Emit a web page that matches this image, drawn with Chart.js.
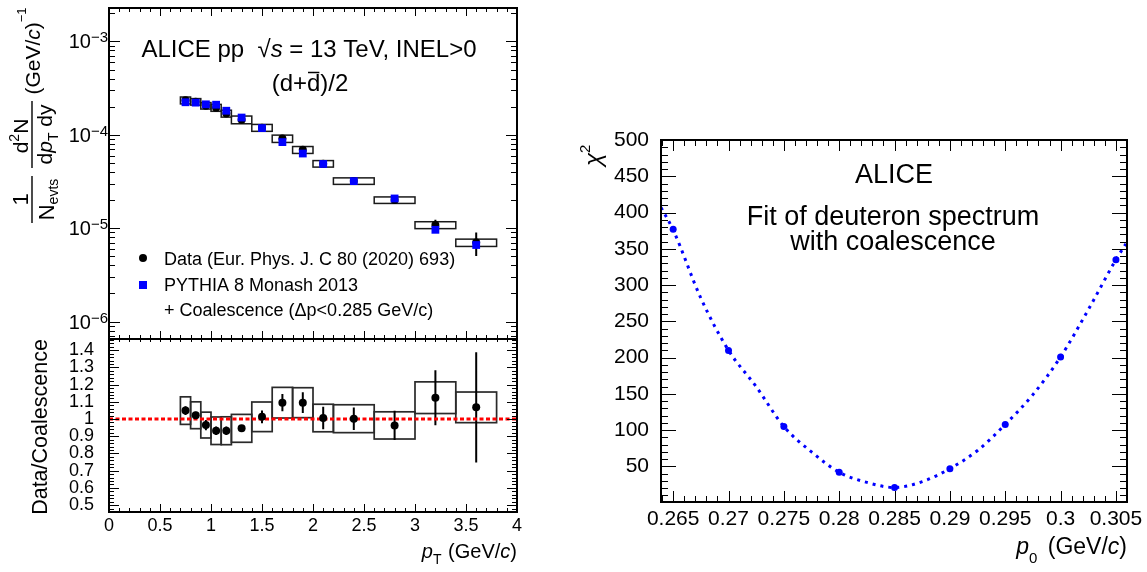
<!DOCTYPE html>
<html><head><meta charset="utf-8">
<script src="https://cdn.jsdelivr.net/npm/chart.js@4.4.0/dist/chart.umd.min.js"></script>
<style>
html,body{margin:0;padding:0;background:#fff;width:1147px;height:572px;overflow:hidden}
.c{position:absolute}
</style></head><body>
<div class="c" style="left:0;top:0"><canvas id="topc" width="560" height="345"></canvas></div>
<div class="c" style="left:0;top:330px"><canvas id="ratioc" width="560" height="242"></canvas></div>
<div class="c" style="left:580px;top:100px"><canvas id="chic" width="567" height="472"></canvas></div>
<script>
// ---------------- data ----------------
const ptCenters   = [0.75, 0.85, 0.95, 1.05, 1.15, 1.3, 1.5, 1.7, 1.9, 2.1, 2.4, 2.8, 3.2, 3.6];
const ptBinLow    = [0.7, 0.8, 0.9, 1.0, 1.1, 1.2, 1.4, 1.6, 1.8, 2.0, 2.2, 2.6, 3.0, 3.4];
const ptBinHigh   = [0.8, 0.9, 1.0, 1.1, 1.2, 1.4, 1.6, 1.8, 2.0, 2.2, 2.6, 3.0, 3.4, 3.8];
const dataYield   = [2.34e-4, 2.26e-4, 2.05e-4, 1.95e-4, 1.69e-4, 1.45e-4, 1.19e-4, 9.1e-5, 6.9e-5, 4.9e-5, 3.2e-5, 2.0e-5, 1.08e-5, 7.0e-6];
const dataStatRel = [0.02, 0.02, 0.03, 0.025, 0.025, 0.015, 0.035, 0.045, 0.055, 0.065, 0.065, 0.09, 0.14, 0.28];
const dataSysRel  = [0.085, 0.08, 0.08, 0.085, 0.085, 0.095, 0.085, 0.09, 0.085, 0.08, 0.08, 0.08, 0.085, 0.09];
const pythiaYield = [2.23e-4, 2.21e-4, 2.12e-4, 2.10e-4, 1.81e-4, 1.53e-4, 1.18e-4, 8.35e-5, 6.3e-5, 4.87e-5, 3.19e-5, 2.08e-5, 9.6e-6, 6.6e-6];
const ratioValues = [1.049, 1.022, 0.965, 0.932, 0.932, 0.946, 1.013, 1.095, 1.095, 1.006, 1.002, 0.963, 1.124, 1.068];
const ratioStat   = [0.025, 0.02, 0.03, 0.025, 0.025, 0.015, 0.037, 0.05, 0.06, 0.065, 0.065, 0.085, 0.16, 0.32];
const ratioSys    = [0.080, 0.078, 0.075, 0.080, 0.081, 0.081, 0.086, 0.089, 0.087, 0.080, 0.081, 0.079, 0.092, 0.089];
const p0Values    = [0.265, 0.27, 0.275, 0.28, 0.285, 0.29, 0.295, 0.3, 0.305];
const chi2Values  = [377, 210, 105, 42, 21, 47, 108, 201, 335];
const fitP0       = [0.2639, 0.265, 0.2675, 0.27, 0.2725, 0.275, 0.2775, 0.28, 0.2825, 0.285, 0.2875, 0.29, 0.2925, 0.295, 0.2975, 0.3, 0.3025, 0.305, 0.3059];
const fitChi2     = [407, 376, 282, 210, 160, 105, 70, 42, 28, 21, 29, 47, 72, 108, 149, 201, 266, 335, 357];
const ptTickLabels    = [0, 0.5, 1, 1.5, 2, 2.5, 3, 3.5, 4];
const ratioTickLabels = [0.5, 0.6, 0.7, 0.8, 0.9, 1, 1.1, 1.2, 1.3, 1.4];
const logDecades      = [-3, -4, -5, -6];
const chi2TickLabels  = [50, 100, 150, 200, 250, 300, 350, 400, 450, 500];
const p0TickLabels    = [0.265, 0.27, 0.275, 0.28, 0.285, 0.29, 0.295, 0.3, 0.305];

// ---------------- helpers ----------------
const FAM = '"Liberation Sans", Arial, Helvetica, sans-serif';
const fnt = (s, it) => (it ? 'italic ' : '') + s + 'px ' + FAM;
function drawRuns(ctx, parts, x, y, align) {
  ctx.textAlign = 'left'; ctx.textBaseline = 'alphabetic';
  let w = 0;
  for (const p of parts) { ctx.font = fnt(p.s, p.it); p._w = ctx.measureText(p.t).width + (p.gap || 0); w += p._w; }
  let cx = align === 'center' ? x - w / 2 : align === 'right' ? x - w : x;
  const pos = [];
  for (const p of parts) { ctx.font = fnt(p.s, p.it); ctx.fillText(p.t, cx, y + (p.dy || 0)); pos.push([cx, p._w]); cx += p._w; }
  return pos;
}
function steps(a, b, st) { const o = []; for (let v = a; v <= b + st * 1e-6; v += st) o.push(+v.toFixed(6)); return o; }
function logMinors(e0, e1) { const o = []; for (let e = e0; e <= e1; e++) for (let k = 2; k <= 9; k++) o.push(k * Math.pow(10, e)); return o; }
const fixSize = px => s => {
  if (s.isHorizontal()) s.height = px; else s.width = px;
  s.paddingTop = 0; s.paddingBottom = 0; s.paddingLeft = 0; s.paddingRight = 0;
};

function drawFrame(chart, cfg) {
  const { ctx, chartArea: a, scales: { x, y } } = chart;
  ctx.save();
  ctx.strokeStyle = '#000'; ctx.lineWidth = 1;
  ctx.beginPath();
  const tickX = (vals, lb, lt) => { for (const v of vals) { const p = Math.round(x.getPixelForValue(v)) + 0.5; if (p < a.left || p > a.right) continue;
      if (lb) { ctx.moveTo(p, a.bottom); ctx.lineTo(p, a.bottom - lb); } if (lt) { ctx.moveTo(p, a.top); ctx.lineTo(p, a.top + lt); } } };
  const tickY = (vals, ll, lr) => { for (const v of vals) { const p = Math.round(y.getPixelForValue(v)) + 0.5; if (p < a.top || p > a.bottom) continue;
      if (ll) { ctx.moveTo(a.left, p); ctx.lineTo(a.left + ll, p); } if (lr) { ctx.moveTo(a.right, p); ctx.lineTo(a.right - lr, p); } } };
  tickX(cfg.xMajor, cfg.xb[0], cfg.xt[0]); tickX(cfg.xMinor, cfg.xb[1], cfg.xt[1]);
  tickY(cfg.yMajor, cfg.yl[0], cfg.yl[0]); tickY(cfg.yMinor, cfg.yl[1], cfg.yl[1]);
  ctx.stroke();
  ctx.lineWidth = 2;
  ctx.strokeRect(a.left, a.top, a.right - a.left, a.bottom - a.top);
  ctx.restore();
}
const hiddenAxis = (extra) => Object.assign({ ticks: { display: false }, grid: { display: false }, border: { display: false }, afterFit: fixSize(0) }, extra);

Chart.defaults.font.family = FAM;
Chart.defaults.color = '#000';

// ---------------- top spectrum panel ----------------
new Chart(document.getElementById('topc'), {
  type: 'scatter',
  data: { datasets: [
    { label: 'PYTHIA 8 Monash 2013 + Coalescence', data: ptCenters.map((x, i) => ({ x, y: pythiaYield[i] })),
      pointStyle: 'rect', pointRadius: 5.5, backgroundColor: '#0000ff', borderColor: '#0000ff', borderWidth: 0 },
    { label: 'Data', data: ptCenters.map((x, i) => ({ x, y: dataYield[i] })),
      pointStyle: 'circle', pointRadius: 4, backgroundColor: '#000', borderColor: '#000', borderWidth: 0 }
  ]},
  options: {
    responsive: false, animation: false, events: [],
    layout: { padding: { left: 109, top: 8, right: 43, bottom: 6 } },
    plugins: { legend: { display: false }, tooltip: { enabled: false } },
    scales: {
      x: hiddenAxis({ type: 'linear', min: 0, max: 4 }),
      y: hiddenAxis({ type: 'logarithmic', min: 6.5e-7, max: 2.28e-3 })
    }
  },
  plugins: [{
    id: 'topDraw',
    beforeDatasetsDraw(chart) {
      const { ctx, scales: { x, y } } = chart;
      ctx.save();
      ctx.strokeStyle = '#1a1a1a'; ctx.lineWidth = 1.5;
      for (let i = 0; i < ptCenters.length; i++) {
        const x0 = x.getPixelForValue(ptBinLow[i]), x1 = x.getPixelForValue(ptBinHigh[i]);
        const y0 = y.getPixelForValue(dataYield[i] * (1 + dataSysRel[i])), y1 = y.getPixelForValue(dataYield[i] * (1 - dataSysRel[i]));
        ctx.strokeRect(x0, y0, x1 - x0, y1 - y0);
      }
      ctx.strokeStyle = '#000'; ctx.lineWidth = 2;
      ctx.beginPath();
      for (let i = 0; i < ptCenters.length; i++) {
        const px = x.getPixelForValue(ptCenters[i]);
        ctx.moveTo(px, y.getPixelForValue(dataYield[i] * (1 + dataStatRel[i])));
        ctx.lineTo(px, y.getPixelForValue(dataYield[i] * (1 - dataStatRel[i])));
      }
      ctx.stroke();
      ctx.restore();
    },
    afterDraw(chart) {
      const { ctx, chartArea: a, scales: { y } } = chart;
      drawFrame(chart, { xMajor: steps(0, 4, 0.5), xMinor: steps(0, 4, 0.1), xb: [8, 4], xt: [8, 4],
        yMajor: logDecades.map(e => Math.pow(10, e)), yMinor: logMinors(-7, -3), yl: [11, 6] });
      ctx.save(); ctx.fillStyle = '#000';
      // log tick labels with superscripts
      for (const e of logDecades) {
        const py = y.getPixelForValue(Math.pow(10, e));
        ctx.font = fnt(15); const sw = ctx.measureText('\u2212' + (-e)).width;
        ctx.font = fnt(20); const tw = ctx.measureText('10').width;
        const right = a.left - 1;
        ctx.textAlign = 'left'; ctx.textBaseline = 'alphabetic';
        ctx.font = fnt(20); ctx.fillText('10', right - sw - tw, py + 7);
        ctx.font = fnt(15); ctx.fillText('\u2212' + (-e), right - sw, py + 1);
      }
      // y title (rotated)
      ctx.save();
      ctx.translate(32, 0); ctx.rotate(-Math.PI / 2);
      ctx.strokeStyle = '#000'; ctx.lineWidth = 1.4;
      ctx.beginPath(); ctx.moveTo(-223, 0); ctx.lineTo(-176, 0); ctx.moveTo(-168, 0); ctx.lineTo(-101, 0); ctx.stroke();
      drawRuns(ctx, [{ t: '1', s: 22 }], -199.5, -4, 'center');
      drawRuns(ctx, [{ t: 'N', s: 22 }, { t: 'evts', s: 14, dy: 4 }], -199.5, 22, 'center');
      drawRuns(ctx, [{ t: 'd', s: 21 }, { t: '2', s: 14, dy: -9 }, { t: 'N', s: 21 }], -136, -4, 'center');
      drawRuns(ctx, [{ t: 'd', s: 21 }, { t: 'p', s: 21, it: true }, { t: 'T', s: 14, dy: 6 }, { t: ' dy', s: 21 }], -134.5, 20, 'center');
      drawRuns(ctx, [{ t: '(GeV/', s: 21 }, { t: 'c', s: 21, it: true }, { t: ')', s: 21 }, { t: '\u22121', s: 13, dy: -14 }], -51, 8, 'center');
      ctx.restore();
      // header texts
      ctx.fillStyle = '#000';
      drawRuns(ctx, [{ t: 'ALICE pp  ', s: 24 }, { t: '\u221A', s: 24 }, { t: 's', s: 24, it: true }, { t: ' = 13 TeV, INEL>0', s: 24 }], 309, 57, 'center');
      ctx.strokeStyle = '#000';
      const dp = drawRuns(ctx, [{ t: '(d+', s: 24 }, { t: 'd', s: 24 }, { t: ')/2', s: 24 }], 310, 91, 'center');
      ctx.lineWidth = 1.5;
      ctx.beginPath(); ctx.moveTo(dp[1][0] + 1, 72.5); ctx.lineTo(dp[1][0] + dp[1][1] - 1, 72.5); ctx.stroke();
      // legend
      ctx.beginPath(); ctx.arc(143, 258, 4, 0, Math.PI * 2); ctx.fillStyle = '#000'; ctx.fill();
      ctx.fillStyle = '#0000ff'; ctx.fillRect(139, 281, 8, 8);
      ctx.fillStyle = '#000';
      drawRuns(ctx, [{ t: 'Data (Eur. Phys. J. C 80 (2020) 693)', s: 18 }], 164, 265, 'left');
      drawRuns(ctx, [{ t: 'PYTHIA 8 Monash 2013', s: 18 }], 164, 291, 'left');
      drawRuns(ctx, [{ t: '+ Coalescence (\u0394p<0.285 GeV/c)', s: 18 }], 164, 316, 'left');
      ctx.restore();
    }
  }]
});

// ---------------- ratio panel ----------------
new Chart(document.getElementById('ratioc'), {
  type: 'scatter',
  data: { datasets: [
    { label: 'Data/Coalescence', data: ptCenters.map((x, i) => ({ x, y: ratioValues[i] })),
      pointStyle: 'circle', pointRadius: 4, backgroundColor: '#000', borderColor: '#000', borderWidth: 0 },
    { label: 'unity', data: [{ x: 0, y: 1 }, { x: 4, y: 1 }], showLine: true, pointRadius: 0,
      borderColor: '#ff0000', borderWidth: 3, borderDash: [4, 2.5], borderCapStyle: 'butt' }
  ]},
  options: {
    responsive: false, animation: false, events: [],
    layout: { padding: { left: 9, top: 9, right: 43, bottom: 10 } },
    plugins: { legend: { display: false }, tooltip: { enabled: false } },
    scales: {
      x: { type: 'linear', min: 0, max: 4, grid: { display: false }, border: { display: false }, afterFit: fixSize(50),
           afterBuildTicks: s => { s.ticks = ptTickLabels.map(v => ({ value: v })); },
           ticks: { autoSkip: false, maxRotation: 0, padding: -5, font: { size: 18 }, callback: v => String(+(+v).toFixed(2)) } },
      y: { type: 'linear', min: 0.46, max: 1.465, grid: { display: false }, border: { display: false }, afterFit: fixSize(100),
           afterBuildTicks: s => { s.ticks = ratioTickLabels.map(v => ({ value: v })); },
           ticks: { autoSkip: false, padding: 7, font: { size: 18 }, callback: v => String(+(+v).toFixed(2)) } }
    }
  },
  plugins: [{
    id: 'ratioDraw',
    beforeDatasetsDraw(chart) {
      const { ctx, scales: { x, y } } = chart;
      ctx.save();
      ctx.strokeStyle = '#2a2a2a'; ctx.lineWidth = 1.7;
      for (let i = 0; i < ptCenters.length; i++) {
        const x0 = x.getPixelForValue(ptBinLow[i]), x1 = x.getPixelForValue(ptBinHigh[i]);
        const y0 = y.getPixelForValue(ratioValues[i] + ratioSys[i]), y1 = y.getPixelForValue(ratioValues[i] - ratioSys[i]);
        ctx.strokeRect(x0, y0, x1 - x0, y1 - y0);
      }
      ctx.strokeStyle = '#000'; ctx.lineWidth = 2;
      ctx.beginPath();
      for (let i = 0; i < ptCenters.length; i++) {
        const px = x.getPixelForValue(ptCenters[i]);
        ctx.moveTo(px, y.getPixelForValue(ratioValues[i] + ratioStat[i]));
        ctx.lineTo(px, y.getPixelForValue(ratioValues[i] - ratioStat[i]));
      }
      ctx.stroke();
      ctx.restore();
    },
    afterDraw(chart) {
      const { ctx, chartArea: a } = chart;
      drawFrame(chart, { xMajor: steps(0, 4, 0.5), xMinor: steps(0, 4, 0.1), xb: [8, 4], xt: [3, 3],
        yMajor: steps(0.5, 1.4, 0.1), yMinor: steps(0.46, 1.46, 0.02), yl: [10, 5] });
      ctx.save(); ctx.fillStyle = '#000';
      drawRuns(ctx, [{ t: 'p', s: 20, it: true }, { t: 'T', s: 14, dy: 6, gap: 1 }, { t: ' (GeV/', s: 20 }, { t: 'c', s: 20, it: true }, { t: ')', s: 20 }], a.right, 228, 'right');
      ctx.translate(47, 97); ctx.rotate(-Math.PI / 2);
      drawRuns(ctx, [{ t: 'Data/Coalescence', s: 21.5 }], 0, 0, 'center');
      ctx.restore();
    }
  }]
});

// ---------------- chi2 panel ----------------
new Chart(document.getElementById('chic'), {
  type: 'scatter',
  data: { datasets: [
    { label: 'chi2', data: p0Values.map((x, i) => ({ x, y: chi2Values[i] })),
      pointStyle: 'circle', pointRadius: 3.5, backgroundColor: '#0000ff', borderColor: '#0000ff', borderWidth: 0 },
    { label: 'fit', data: fitP0.map((x, i) => ({ x, y: fitChi2[i] })), showLine: true, pointRadius: 0,
      borderColor: '#0000ff', borderWidth: 3, borderDash: [3, 5], borderCapStyle: 'butt', cubicInterpolationMode: 'monotone' }
  ]},
  options: {
    responsive: false, animation: false, events: [],
    layout: { padding: { left: 6, top: 40, right: 20, bottom: 20 } },
    plugins: { legend: { display: false }, tooltip: { enabled: false } },
    scales: {
      x: { type: 'linear', min: 0.2639, max: 0.3060, grid: { display: false }, border: { display: false }, afterFit: fixSize(50),
           afterBuildTicks: s => { s.ticks = p0TickLabels.map(v => ({ value: v })); },
           ticks: { autoSkip: false, maxRotation: 0, padding: -3, font: { size: 21 }, callback: v => String(+(+v).toFixed(3)) } },
      y: { type: 'linear', min: 1, max: 500, grid: { display: false }, border: { display: false }, afterFit: fixSize(75),
           afterBuildTicks: s => { s.ticks = chi2TickLabels.map(v => ({ value: v })); },
           ticks: { autoSkip: false, padding: 4, font: { size: 21 }, callback: v => String(v) } }
    }
  },
  plugins: [{
    id: 'chiDraw',
    afterDraw(chart) {
      const { ctx, chartArea: a } = chart;
      drawFrame(chart, { xMajor: steps(0.265, 0.305, 0.005), xMinor: steps(0.264, 0.306, 0.001), xb: [11, 6], xt: [11, 6],
        yMajor: steps(50, 500, 50), yMinor: steps(10, 500, 10), yl: [15, 7] });
      ctx.save(); ctx.fillStyle = '#000';
      drawRuns(ctx, [{ t: 'ALICE', s: 27 }], 314, 83, 'center');
      drawRuns(ctx, [{ t: 'Fit of deuteron spectrum', s: 27 }], 313, 125, 'center');
      drawRuns(ctx, [{ t: 'with coalescence', s: 27 }], 313, 150, 'center');
      drawRuns(ctx, [{ t: 'p', s: 23, it: true }, { t: '0', s: 15, dy: 9, gap: 4 }, { t: ' (GeV/', s: 23 }, { t: 'c', s: 23, it: true }, { t: ')', s: 23 }], a.right, 454, 'right');
      ctx.translate(21, 66); ctx.rotate(-Math.PI / 2);
      drawRuns(ctx, [{ t: '\u03C7', s: 24, it: true }, { t: '2', s: 15, dy: -11 }], 0, 0, 'left');
      ctx.restore();
    }
  }]
});
</script>
</body></html>
